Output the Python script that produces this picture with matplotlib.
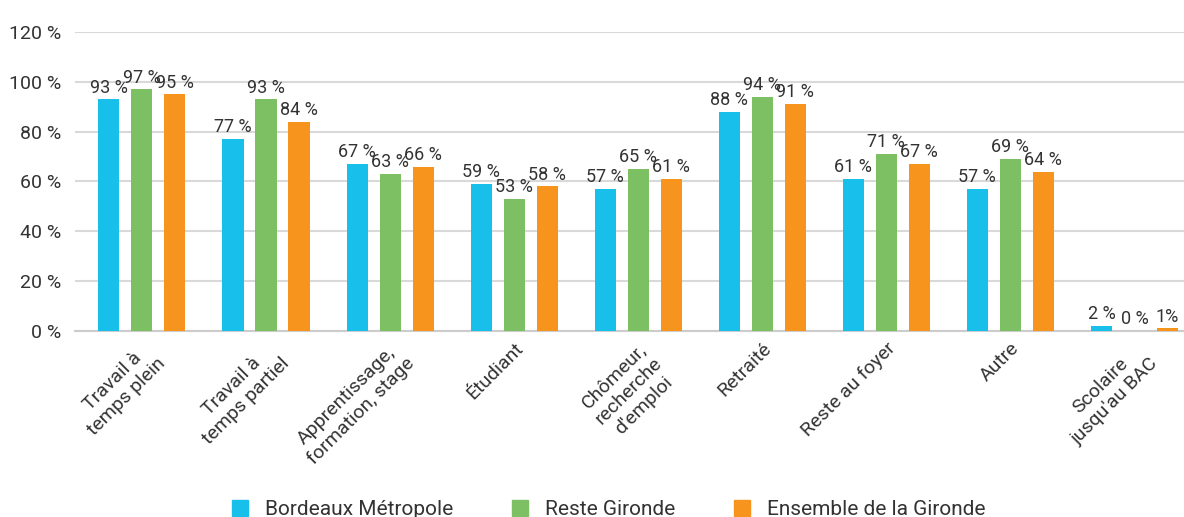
import matplotlib
matplotlib.use("Agg")
import matplotlib.pyplot as plt
import numpy as np
from matplotlib.patches import Patch

plt.rcParams['font.family'] = ['Roboto', 'DejaVu Sans']

categories = ["Travail à\ntemps plein", "Travail à\ntemps partiel", "Apprentissage,\nformation, stage",
              "Étudiant", "Chômeur,\nrecherche\nd'emploi", "Retraité", "Reste au foyer", "Autre",
              "Scolaire\njusqu'au BAC"]
bordeaux = [93, 77, 67, 59, 57, 88, 61, 57, 2]
reste = [97, 93, 63, 53, 65, 94, 71, 69, 0]
ensemble = [95, 84, 66, 58, 61, 91, 67, 64, 1]
series_names = ["Bordeaux Métropole", "Reste Gironde", "Ensemble de la Gironde"]
colors = ["#17BFEA", "#7DC064", "#F7941D"]
yticks = [0, 20, 40, 60, 80, 100, 120]

fig = plt.figure(figsize=(11.84, 5.17), dpi=100)
ax = fig.add_axes([0.0633, 0.36, 0.9367, 0.578])

x = np.arange(len(categories))
w = 0.17
off = 0.266
txt = "#333333"
for i, (vals, c) in enumerate(zip([bordeaux, reste, ensemble], colors)):
    bars = ax.bar(x + (i - 1) * off, vals, width=w, color=c, zorder=3)
    labels = [f"{v}%" if v == 1 else f"{v} %" for v in vals]
    ax.bar_label(bars, labels=labels, padding=2, fontsize=13, color=txt)

ax.set_ylim(0, 120)
ax.set_xlim(-0.54, 8.4)
ax.set_yticks(yticks)
ax.set_yticklabels([f"{t} %" for t in yticks], fontsize=14, color=txt)
ax.yaxis.grid(True, color="#d9d9d9", linewidth=1.5, zorder=0)
ax.tick_params(axis='y', length=0, pad=10)
ax.tick_params(axis='x', length=0, pad=6)
for s in ['top', 'right', 'left']:
    ax.spines[s].set_visible(False)
ax.spines['bottom'].set_color("#cccccc")
ax.spines['bottom'].set_linewidth(1.5)

ax.set_xticks(x)
ax.set_xticklabels(categories, rotation=45, ha='right', rotation_mode='anchor',
                   fontsize=14, color=txt, multialignment='center')

handles = [Patch(color=c, label=n) for c, n in zip(colors, series_names)]
fig.legend(handles=handles, loc='lower center', bbox_to_anchor=(0.514, -0.04), ncol=3,
           frameon=False, fontsize=15, handlelength=0.8, handleheight=0.8,
           columnspacing=2.8, labelcolor=txt)

fig.savefig("out.png", dpi=100)
